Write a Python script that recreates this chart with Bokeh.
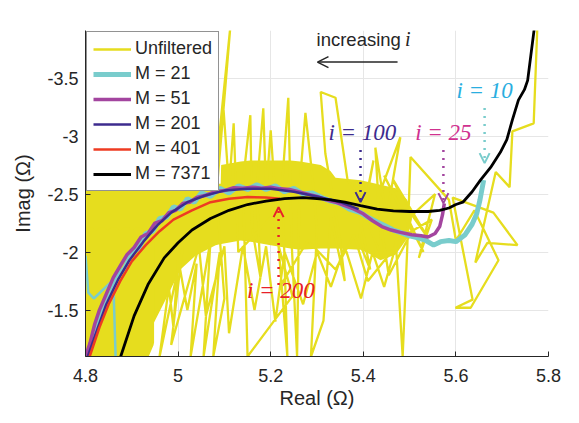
from bokeh.plotting import figure
from bokeh.models import (Range1d, FixedTicker, CustomJSTickFormatter, Legend, LegendItem,
                          Arrow, OpenHead, Label)
from bokeh.embed import file_html
from bokeh.resources import INLINE

# ---------------- data (Real x1e-3, Imag x1e-4) ----------------
x_ticks = [4.8, 5.0, 5.2, 5.4, 5.6, 5.8]
y_ticks = [-3.5, -3.0, -2.5, -2.0, -1.5]

# dense core of the unfiltered cloud (envelope of the overplotted samples)
core_x = [4.800, 4.919, 4.940, 4.973, 5.005, 5.038, 5.081, 5.092, 5.093, 5.135, 5.156, 5.200,
          5.243, 5.264, 5.308, 5.329, 5.340, 5.394, 5.416, 5.437, 5.470, 5.495, 5.505]
core_lo = [-1.10, -1.10, -1.33, -1.59, -1.85, -1.97, -2.06, -2.07, -2.07, -2.10, -2.09, -2.06,
           -2.03, -2.02, -2.03, -2.03, -2.03, -2.02, -1.98, -1.93, -1.98, -2.12, -2.28]
core_hi = [-2.59, -2.59, -2.59, -2.59, -2.59, -2.59, -2.59, -2.59, -2.75, -2.78, -2.79, -2.79,
           -2.79, -2.78, -2.75, -2.70, -2.64, -2.62, -2.60, -2.58, -2.55, -2.45, -2.30]

# densely overplotted unfiltered samples at the lower-left edge
dense_x = [4.803, 4.803, 4.816, 4.816, 4.829, 4.829, 4.842, 4.842, 4.855, 4.855, 4.868, 4.868,
           4.881, 4.881, 4.894, 4.894, 4.907, 4.907, 4.920, 4.920, 4.933, 4.933]
dense_y = [-1.10, -2.15, -2.15, -1.10, -1.10, -2.15, -2.15, -1.10, -1.10, -2.15, -2.15, -1.10,
           -1.10, -2.15, -2.15, -1.10, -1.10, -2.15, -2.15, -1.10, -1.22, -2.15]

unf_x = [5.776, 5.768, 5.722, 5.716, 5.686, 5.642, 5.668, 5.733, 5.681, 5.593, 5.636, 5.599,
         5.632, 5.692, 5.640, 5.600, 5.585, 5.502, 5.495, 5.485, 5.470, 5.548, 5.520, 5.555,
         5.500, 5.465, 5.540, 5.470, 5.530, 5.445, 5.505, 5.455, 5.430, 5.480, 5.450, 5.426,
         5.440, 5.400, 5.422, 5.390, 5.415, 5.380, 5.366, 5.340, 5.308, 5.318, 5.350, 5.360,
         5.330, 5.314, 5.287, 5.300, 5.290, 5.275, 5.262, 5.257, 5.245, 5.238, 5.225, 5.236,
         5.215, 5.200, 5.190, 5.184, 5.170, 5.178, 5.160, 5.156, 5.140, 5.150, 5.247, 5.200,
         5.130, 5.120, 5.110, 5.098, 5.085, 5.113, 5.080, 5.100, 5.076, 5.090, 5.055, 5.070,
         5.027, 5.040, 5.020, 5.000, 4.990, 4.980, 4.960, 5.010, 4.985, 5.045, 5.060, 5.100,
         5.110, 5.140, 5.165, 5.190, 5.210, 5.230, 5.270, 5.300, 5.330, 5.360, 5.395, 5.420,
         5.445, 5.470, 5.410, 5.380, 5.340, 5.280, 5.220]
unf_y = [-3.95, -3.11, -3.04, -2.56, -2.69, -1.91, -2.08, -2.06, -2.34, -2.47, -1.59, -1.52,
         -1.52, -1.93, -2.36, -2.10, -2.45, -2.82, -2.04, -1.10, -2.10, -2.28, -1.95, -2.50,
         -2.30, -2.62, -2.12, -2.52, -2.00, -2.66, -2.18, -1.80, -2.45, -2.99, -2.30, -2.90,
         -1.95, -2.35, -2.79, -2.10, -1.85, -2.55, -2.62, -3.33, -3.38, -2.85, -2.10, -1.75,
         -2.30, -1.41, -1.10, -2.20, -2.65, -3.20, -2.55, -1.10, -2.10, -3.33, -2.60, -1.10,
         -2.15, -3.05, -2.50, -3.24, -2.55, -1.78, -2.20, -3.18, -2.60, -1.10, -1.62, -2.30,
         -2.00, -3.11, -2.55, -3.24, -2.60, -3.95, -2.65, -1.60, -1.10, -2.00, -1.10, -2.10,
         -1.10, -1.90, -1.50, -1.95, -1.35, -1.70, -1.10, -2.05, -1.20, -2.05, -1.45, -2.05,
         -1.30, -2.05, -1.50, -2.05, -1.40, -2.00, -1.55, -2.00, -1.70, -2.05, -1.60, -2.00,
         -1.70, -2.05, -1.75, -2.15, -1.85, -2.10, -1.70]

m21_x = [5.660, 5.652, 5.645, 5.635, 5.620, 5.600, 5.585, 5.567, 5.552, 5.535, 5.520, 5.500,
         5.480, 5.465, 5.450, 5.430, 5.410, 5.394, 5.370, 5.350, 5.330, 5.310, 5.290, 5.270,
         5.250, 5.230, 5.210, 5.190, 5.170, 5.150, 5.130, 5.110, 5.090, 5.070, 5.050, 5.035,
         5.020, 5.005, 4.990, 4.975, 4.960, 4.945, 4.930, 4.915, 4.900, 4.885, 4.870, 4.855,
         4.840, 4.830, 4.820, 4.810, 4.800]
m21_y = [-2.62, -2.45, -2.33, -2.24, -2.15, -2.09, -2.10, -2.09, -2.06, -2.10, -2.12, -2.14,
         -2.17, -2.19, -2.22, -2.26, -2.30, -2.34, -2.37, -2.42, -2.44, -2.47, -2.51, -2.50,
         -2.55, -2.52, -2.57, -2.54, -2.58, -2.54, -2.57, -2.51, -2.55, -2.48, -2.51, -2.43,
         -2.46, -2.37, -2.39, -2.30, -2.29, -2.18, -2.16, -2.03, -2.00, -1.86, -1.80, -1.64,
         -1.55, -1.41, -1.32, -1.17, -1.10]
# late (large i) samples of the M = 21 curve near the left edge
m21_tail_x = [4.800, 4.806, 4.818, 4.860, 4.865]
m21_tail_y = [-1.97, -1.65, -1.60, -1.76, -1.10]

m51_x = [5.575, 5.571, 5.565, 5.555, 5.540, 5.525, 5.505, 5.480, 5.460, 5.440, 5.420, 5.400,
         5.380, 5.360, 5.340, 5.320, 5.300, 5.280, 5.260, 5.240, 5.220, 5.200, 5.180, 5.160,
         5.140, 5.120, 5.100, 5.080, 5.060, 5.040, 5.025, 5.010, 4.995, 4.980, 4.965, 4.950,
         4.935, 4.920, 4.905, 4.890, 4.875, 4.860, 4.845, 4.830, 4.820, 4.810, 4.800]
m51_y = [-2.42, -2.32, -2.22, -2.16, -2.13, -2.14, -2.15, -2.17, -2.19, -2.22, -2.27, -2.33,
         -2.37, -2.40, -2.43, -2.45, -2.48, -2.50, -2.52, -2.54, -2.545, -2.56, -2.55, -2.56,
         -2.55, -2.555, -2.53, -2.52, -2.49, -2.47, -2.43, -2.42, -2.36, -2.34, -2.27, -2.25,
         -2.16, -2.13, -2.04, -1.98, -1.88, -1.78, -1.64, -1.50, -1.38, -1.22, -1.10]

m201_x = [4.805, 4.825, 4.845, 4.870, 4.895, 4.925, 4.955, 4.985, 5.020, 5.060, 5.100, 5.150,
          5.200, 5.250, 5.300, 5.350, 5.390]
m201_y = [-1.10, -1.33, -1.55, -1.76, -1.93, -2.09, -2.23, -2.34, -2.43, -2.49, -2.53, -2.545,
          -2.545, -2.52, -2.48, -2.43, -2.37]

m401_x = [4.809, 4.830, 4.850, 4.875, 4.900, 4.930, 4.960, 4.990, 5.030, 5.070, 5.110, 5.150,
          5.190, 5.220]
m401_y = [-1.10, -1.35, -1.55, -1.75, -1.92, -2.06, -2.18, -2.28, -2.36, -2.43, -2.46, -2.475,
          -2.47, -2.46]

m7371_x = [4.876, 4.905, 4.935, 4.970, 5.000, 5.030, 5.070, 5.110, 5.150, 5.190, 5.230, 5.270,
           5.300, 5.330, 5.360, 5.394, 5.430, 5.465, 5.500, 5.540, 5.565, 5.585, 5.600, 5.615,
           5.635, 5.653, 5.675, 5.696, 5.710, 5.722, 5.735, 5.748, 5.755, 5.762, 5.770]
m7371_y = [-1.10, -1.45, -1.72, -1.95, -2.08, -2.19, -2.29, -2.36, -2.41, -2.44, -2.46, -2.47,
           -2.46, -2.45, -2.43, -2.40, -2.37, -2.355, -2.35, -2.35, -2.36, -2.38, -2.41, -2.43,
           -2.52, -2.62, -2.73, -2.86, -2.97, -3.14, -3.31, -3.40, -3.48, -3.70, -3.95]

labels = ["Unfiltered", "M = 21", "M = 51", "M = 201", "M = 401", "M = 7371"]

YEL = "#e6dd1e"
CYA = "#79cccc"
PUR = "#a3459f"
BLU = "#3d2b8e"
RED = "#ee3b22"
BLK = "#000000"
TXT = "#262626"
FONT = "Liberation Sans"
SERIF = "Liberation Serif"

p = figure(width=568, height=415, output_backend="svg", toolbar_location=None,
           x_range=Range1d(4.8, 5.8), y_range=Range1d(-1.1, -3.91),
           min_border_left=85, min_border_right=20, min_border_top=30, min_border_bottom=59)
p.outline_line_color = None
p.background_fill_color = "white"
p.border_fill_color = "white"

fmt = CustomJSTickFormatter(code="return String(Math.round(tick*10)/10);")
p.xaxis.ticker = FixedTicker(ticks=x_ticks)
p.yaxis.ticker = FixedTicker(ticks=y_ticks)
for ax in (p.xaxis, p.yaxis):
    ax.formatter = fmt
    ax.major_tick_in = 5
    ax.major_tick_out = 0
    ax.minor_tick_line_color = None
    ax.axis_line_color = TXT
    ax.major_tick_line_color = TXT
    ax.major_label_text_font = FONT
    ax.major_label_text_font_size = "18px"
    ax.major_label_text_color = TXT
    ax.axis_label_text_font = FONT
    ax.axis_label_text_font_size = "20px"
    ax.axis_label_text_font_style = "normal"
    ax.axis_label_text_color = TXT
p.xaxis.axis_label = "Real (Ω)"
p.yaxis.axis_label = "Imag (Ω)"
p.xaxis.major_label_standoff = 12
p.yaxis.major_label_standoff = 7
p.xaxis.axis_label_standoff = 2
p.yaxis.axis_label_standoff = 10
p.xgrid.grid_line_color = "#e6e6e6"
p.ygrid.grid_line_color = "#e6e6e6"

p.varea(x=core_x, y1=core_lo, y2=core_hi, fill_color=YEL)
p.line(dense_x, dense_y, line_color=YEL, line_width=14)
r_unf = p.line(unf_x, unf_y, line_color=YEL, line_width=2.3)
r21 = p.line(m21_x, m21_y, line_color=CYA, line_width=5)
p.line(m21_tail_x, m21_tail_y, line_color=CYA, line_width=2.5)
r51 = p.line(m51_x, m51_y, line_color=PUR, line_width=3.5)
r201 = p.line(m201_x, m201_y, line_color=BLU, line_width=2.5)
r401 = p.line(m401_x, m401_y, line_color=RED, line_width=2.5)
r7371 = p.line(m7371_x, m7371_y, line_color=BLK, line_width=2.8)

legend = Legend(items=[LegendItem(label=l, renderers=[r]) for l, r in
                       zip(labels, [r_unf, r21, r51, r201, r401, r7371])],
                location="top_left")
legend.label_text_font = FONT
legend.label_text_font_size = "18px"
legend.label_text_color = TXT
legend.glyph_width = 38
legend.glyph_height = 20
legend.label_height = 20
legend.label_standoff = 4
legend.spacing = 4
legend.padding = 6
legend.margin = 1
legend.border_line_color = TXT
legend.border_line_width = 1
legend.background_fill_alpha = 1
p.add_layout(legend)

# "increasing i"
p.add_layout(Label(x=5.299, y=-3.741, text="increasing", text_font=FONT,
                   text_font_size="18.5px", text_color=TXT))
p.add_layout(Label(x=5.490, y=-3.741, text="i", text_font=SERIF, text_font_style="italic",
                   text_font_size="20px", text_color=TXT))
p.add_layout(Arrow(end=OpenHead(size=11, line_color=TXT, line_width=1.5),
                   x_start=5.474, y_start=-3.638, x_end=5.301, y_end=-3.638,
                   line_color=TXT, line_width=1.5))

# i = ... annotations
ann = [("i = 10", 5.662, 5.662, -3.284, -3.241, -2.767, "#2aaee0", CYA),
       ("i = 25", 5.573, 5.573, -2.922, -2.879, -2.422, "#d0318f", PUR),
       ("i = 100", 5.398, 5.394, -2.922, -2.879, -2.431, BLU, BLU)]
for t, xt, xa, yt, ys, ye, tc, lc in ann:
    p.add_layout(Label(x=xt, y=yt, text=t, text_font=SERIF, text_font_style="italic",
                       text_font_size="23px", text_color=tc, text_align="center"))
    p.add_layout(Arrow(end=OpenHead(size=10, line_color=lc, line_width=2),
                       x_start=xa, y_start=ys, x_end=xa, y_end=ye,
                       line_color=lc, line_width=2.5, line_dash="2 6"))
p.add_layout(Label(x=5.222, y=-1.560, text="i = 200", text_font=SERIF, text_font_style="italic",
                   text_font_size="23px", text_color="#e8202a", text_align="center"))
p.add_layout(Arrow(end=OpenHead(size=10, line_color="#e8202a", line_width=2),
                   x_start=5.217, y_start=-1.716, x_end=5.217, y_end=-2.388,
                   line_color="#e8202a", line_width=2.5, line_dash="2 6"))

# exponent multipliers
p.add_layout(Label(x=4.806, y=-3.957, text="×10", text_font=FONT, text_font_size="18px",
                   text_color=TXT))
p.add_layout(Label(x=4.876, y=-4.030, text="-4", text_font=FONT, text_font_size="13px",
                   text_color=TXT))
p.add_layout(Label(x=5.690, y=-0.595, text="×10", text_font=FONT, text_font_size="18px",
                   text_color=TXT))
p.add_layout(Label(x=5.761, y=-0.655, text="-3", text_font=FONT, text_font_size="13px",
                   text_color=TXT))

open("out.html", "w").write(file_html(p, INLINE))
